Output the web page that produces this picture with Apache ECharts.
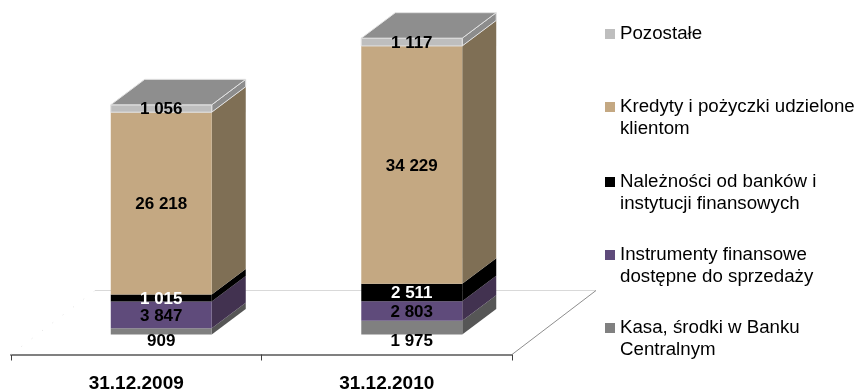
<!DOCTYPE html>
<html>
<head>
<meta charset="utf-8">
<style>html,body{margin:0;padding:0;background:#fff}#chart{width:855px;height:390px}</style>
<script src="https://cdn.jsdelivr.net/npm/echarts@6/dist/echarts.min.js"></script>
</head>
<body>
<div id="chart"></div>
<script>
// Balance sheet asset structure at two year-ends, stacked bottom to top.
const categories = ['31.12.2009', '31.12.2010'];
const seriesNames = [
  'Kasa, środki w Banku\nCentralnym',
  'Instrumenty finansowe\ndostępne do sprzedaży',
  'Należności od banków i\ninstytucji finansowych',
  'Kredyty i pożyczki udzielone\nklientom',
  'Pozostałe'
];
const kasa = [909, 1975];
const instrumenty = [3847, 2803];
const naleznosci = [1015, 2511];
const kredyty = [26218, 34229];
const pozostale = [1056, 1117];
const seriesValues = [kasa, instrumenty, naleznosci, kredyty, pozostale];

const frontColors = ['#808080', '#5F4B7B', '#000000', '#C4A882', '#BEBEBE'];
const sideColors = ['#565656', '#423250', '#000000', '#7F6F55', '#8C8C8C'];
const labelColors = ['#000000', '#000000', '#ffffff', '#000000', '#000000'];
const legendTops = [295, 222, 149, 74, 23];

const FONT = '"Liberation Sans", Arial, sans-serif';
const DEPTH_X = 34, DEPTH_Y = 25.5;          // oblique projection of a bar's depth
const FLOOR_X = 84, FLOOR_Y = 64;            // oblique projection of the floor's depth
const BAR_SHIFT_X = 25, BAR_SHIFT_Y = -20;   // bars stand mid-way back on the floor

const fmt = v => String(v).replace(/\B(?=(\d{3})+$)/g, ' ');

// Sum of the values stacked under a point, used to build each segment's base.
function stackBase(seriesIndex, catIndex) {
  let sum = 0;
  for (let i = 0; i < seriesIndex; i++) sum += seriesValues[i][catIndex];
  return sum;
}

function renderSegment(seriesIndex, params, api) {
  const cat = api.value(0), base = api.value(1), top = api.value(2);
  const c0 = api.coord([cat, base]);
  const c1 = api.coord([cat, top]);
  const w = api.size([1, 0])[0] * 0.403;
  const cx = c0[0] + BAR_SHIFT_X;
  const l = cx - w / 2, r = cx + w / 2;
  const y0 = c0[1], y1 = c1[1];
  const isTop = seriesIndex === seriesValues.length - 1;
  const isBottom = seriesIndex === 0;
  const edge = isTop ? '#E2E2E2' : null;

  const children = [
    { type: 'polygon', shape: { points: [[r, y0], [r + DEPTH_X, y0 - DEPTH_Y], [r + DEPTH_X, y1 - DEPTH_Y], [r, y1]] },
      style: { fill: sideColors[seriesIndex], stroke: edge, lineWidth: 1 } },
    { type: 'rect', shape: { x: l, y: y1, width: w, height: y0 - y1 },
      style: { fill: frontColors[seriesIndex], stroke: edge, lineWidth: 1 } }
  ];
  if (isTop) {
    children.push({ type: 'polygon',
      shape: { points: [[l, y1], [r, y1], [r + DEPTH_X, y1 - DEPTH_Y], [l + DEPTH_X, y1 - DEPTH_Y]] },
      style: { fill: '#8E8E8E', stroke: edge, lineWidth: 1 } });
  }
  // The lowest segment is too thin to hold its figure, so it sits under the bar.
  const labelY = isBottom ? y0 + 7 : (y0 + y1) / 2 + 1;
  children.push({ type: 'text', z2: 100,
    style: { x: cx, y: labelY, text: fmt(top - base), fill: labelColors[seriesIndex],
      font: 'bold 17px ' + FONT, textAlign: 'center', textVerticalAlign: 'middle' } });
  return { type: 'group', children };
}

// Floor outline: back and side edges; the front edge is the category axis.
function renderFloor(params, api) {
  const a = api.coord([0, 0]);
  const band = api.size([1, 0])[0];
  const left = a[0] - band / 2, right = left + band * categories.length;
  const y = a[1] - BAR_SHIFT_Y;
  const line = (x1, y1, x2, y2, stroke, extra) => ({ type: 'line',
    shape: { x1, y1, x2, y2 }, style: Object.assign({ stroke, lineWidth: 1 }, extra || {}) });
  return { type: 'group', children: [
    line(left + FLOOR_X, y - FLOOR_Y, right + FLOOR_X, y - FLOOR_Y, '#D9D9D9'),
    line(right, y, right + FLOOR_X, y - FLOOR_Y, '#8E8E8E'),
    line(left, y, left + FLOOR_X, y - FLOOR_Y, '#E4E4E4', { lineDash: [1, 12] })
  ] };
}

const chart = echarts.init(document.getElementById('chart'), null, { renderer: 'canvas' });

const series = [{
  type: 'custom', silent: true, data: [[0]], renderItem: renderFloor,
  coordinateSystem: 'cartesian2d', encode: { x: 0 }, tooltip: { show: false }
}].concat(seriesNames.map((name, s) => ({
  name,
  type: 'custom',
  coordinateSystem: 'cartesian2d',
  itemStyle: { color: frontColors[s] },
  encode: { x: 0, y: [1, 2] },
  data: categories.map((_, i) => [i, stackBase(s, i), stackBase(s, i) + seriesValues[s][i]]),
  renderItem: (params, api) => renderSegment(s, params, api)
})));

chart.setOption({
  animation: false,
  backgroundColor: '#ffffff',
  grid: { left: 11, width: 501, top: 21.75, height: 312.75, outerBoundsMode: 'none' },
  xAxis: {
    type: 'category',
    data: categories,
    offset: 20,
    axisLine: { onZero: false, lineStyle: { color: '#808080', width: 2 } },
    axisTick: { show: true, alignWithLabel: false, length: 6, lineStyle: { color: '#404040', width: 1 } },
    axisLabel: { color: '#000', fontFamily: FONT, fontWeight: 'bold', fontSize: 19, margin: 20 },
    splitLine: { show: false }
  },
  yAxis: { type: 'value', min: 0, max: 45000, show: false },
  legend: seriesNames.map((name, s) => ({
    data: [{ name, icon: 'rect' }],
    orient: 'vertical',
    left: 605,
    top: legendTops[s],
    itemWidth: 10,
    itemHeight: 10,
    itemGap: 0,
    padding: 0,
    selectedMode: false,
    // A leading blank line keeps the marker level with the first text line.
    formatter: n => (n.includes('\n') ? '\n' + n : n),
    textStyle: { color: '#000', fontFamily: FONT, fontSize: 18.7, lineHeight: 22 }
  })),
  series
});
</script>
</body>
</html>
